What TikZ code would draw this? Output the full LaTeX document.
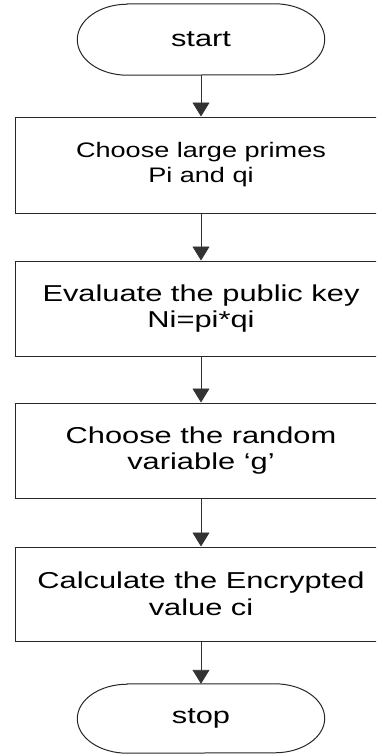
\documentclass[tikz,border=0pt]{standalone}
\usepackage{fontspec}
\setmainfont{Liberation Sans}
\newfontfamily\fcmain[FakeStretch=1.34]{Liberation Sans}
\newfontfamily\fcsmall[FakeStretch=1.29]{Liberation Sans}
\usetikzlibrary{arrows.meta}
\begin{document}
\begin{tikzpicture}[x=1pt,y=-1pt,
  box/.style={draw=black!85, line width=1pt, minimum width=372pt, inner sep=0pt, align=center,
    font=\fcmain\fontsize{23}{26.5}\selectfont},
  smalltext/.style={font=\fcsmall\fontsize{21}{25}\selectfont},
  term/.style={minimum width=247pt, inner sep=0pt, font=\fcmain\fontsize{23}{26.5}\selectfont},
  outline/.style={draw=black!85, line width=1pt},
  conn/.style={draw=black!80, line width=0.9pt, -{Triangle[length=14pt,width=17pt]}}]
\useasboundingbox (0,0) rectangle (376,755);
\clip (0,0) rectangle (376,755);

\node[term, minimum height=71pt] (s) at (201,39.5) {start};
\draw[outline] ([xshift=50pt]s.north west) -- ([xshift=-50pt]s.north east)
  arc[start angle=90,end angle=-90,x radius=50pt,y radius=35.5pt]
  -- ([xshift=50pt]s.south west)
  arc[start angle=270,end angle=90,x radius=50pt,y radius=35.5pt] -- cycle;

\node[box, smalltext, minimum height=96pt] (b1) at (201,165) {Choose large primes\\Pi and qi};
\node[box, minimum height=95pt] (b2) at (201,308.5) {Evaluate the public key\\Ni=pi*qi};
\node[box, minimum height=95pt] (b3) at (201,450.5) {Choose the random\\variable ‘g’};
\node[box, minimum height=94pt] (b4) at (201,594) {Calculate the Encrypted\\value ci};

\node[term, minimum height=69pt] (e) at (201,718.5) {stop};
\draw[outline] ([xshift=50pt]e.north west) -- ([xshift=-50pt]e.north east)
  arc[start angle=90,end angle=-90,x radius=50pt,y radius=34.5pt]
  -- ([xshift=50pt]e.south west)
  arc[start angle=270,end angle=90,x radius=50pt,y radius=34.5pt] -- cycle;

\draw[conn] (s) -- (b1);
\draw[conn] (b1) -- (b2);
\draw[conn] (b2) -- (b3);
\draw[conn] (b3) -- (b4);
\draw[conn] (b4) -- (e);
\end{tikzpicture}
\end{document}
